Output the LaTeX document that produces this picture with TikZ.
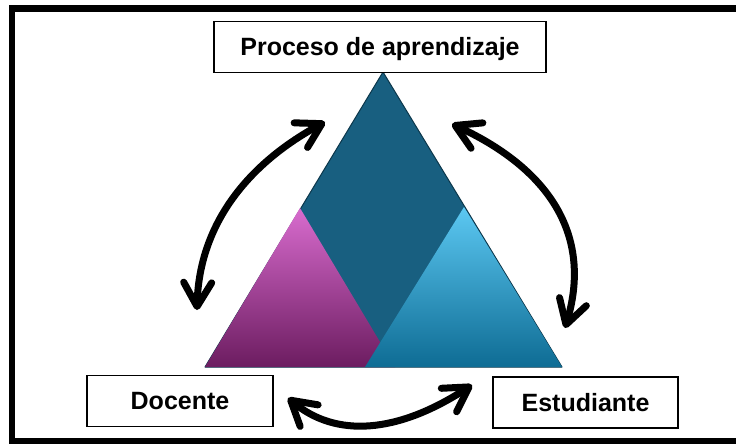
\documentclass[tikz,border=0pt]{standalone}
\usepackage{fontspec}
\setmainfont{Liberation Sans}
\usetikzlibrary{arrows.meta}
\definecolor{deepteal}{RGB}{24,95,128}
\definecolor{tealedge}{RGB}{12,55,75}
\definecolor{pinktop}{RGB}{216,108,206}
\definecolor{pinkmid}{RGB}{168,44,154}
\definecolor{pinkbot}{RGB}{108,28,96}
\definecolor{cyantop}{RGB}{92,200,242}
\definecolor{cyanmid}{RGB}{18,163,220}
\definecolor{cyanbot}{RGB}{14,108,148}

\begin{document}
\begin{tikzpicture}
    [x=1pt, y=-1pt,
    every node/.style={font=\fontsize{25}{28}\selectfont\bfseries},
    labelbox/.style={draw, line width=1.2pt, fill=white, minimum height=51pt,
        inner sep=0pt, text height=17.5pt, text depth=0pt},
    swap arrow/.style={line width=7pt,
        {Straight Barb[length=24pt,width=28pt,round]}-{Straight Barb[length=24pt,width=28pt,round]}}
    ]
    \useasboundingbox (0,0) rectangle (736,444);
    \draw [line width=6.5pt] (12,8.5) rectangle (745,441);

    \coordinate (apex) at (383,72);
    \coordinate (baseL) at (205,367);
    \coordinate (baseR) at (562,367);
    \coordinate (pinkTop) at (300,208);
    \coordinate (pinkR) at (395,367);
    \coordinate (cyanTop) at (464,207);
    \coordinate (cyanL) at (365,367);
    \filldraw [fill=deepteal, draw=tealedge, line width=1pt, line join=round]
        (apex) -- (baseL) -- (baseR) -- cycle;
    \shade [top color=pinktop, middle color=pinkmid, bottom color=pinkbot]
        (pinkTop) -- (baseL) -- (pinkR) -- cycle;
    \shade [top color=cyantop, middle color=cyanmid, bottom color=cyanbot]
        (cyanTop) -- (cyanL) -- (baseR) -- cycle;

    \node (proceso) [labelbox, minimum width=332pt] at (380,47) {Proceso de aprendizaje};
    \node (docente) [labelbox, minimum width=186pt] at (180,401) {Docente};
    \node (estudiante) [labelbox, minimum width=185pt] at (585.5,402.5) {Estudiante};

    \coordinate (leftTop) at (325,122);
    \coordinate (leftBot) at (197,310);
    \coordinate (rightTop) at (452,124);
    \coordinate (rightBot) at (565,328);
    \coordinate (lowL) at (288,398);
    \coordinate (lowR) at (472,385);
    \draw [swap arrow] (leftBot) .. controls (199,230) and (241.7,167.3) .. (leftTop);
    \draw [swap arrow] (rightTop) .. controls (554,171.3) and (591.7,239.3) .. (rightBot);
    \draw [swap arrow] (lowL) .. controls (336,438) and (397.3,433.7) .. (lowR);
\end{tikzpicture}
\end{document}
